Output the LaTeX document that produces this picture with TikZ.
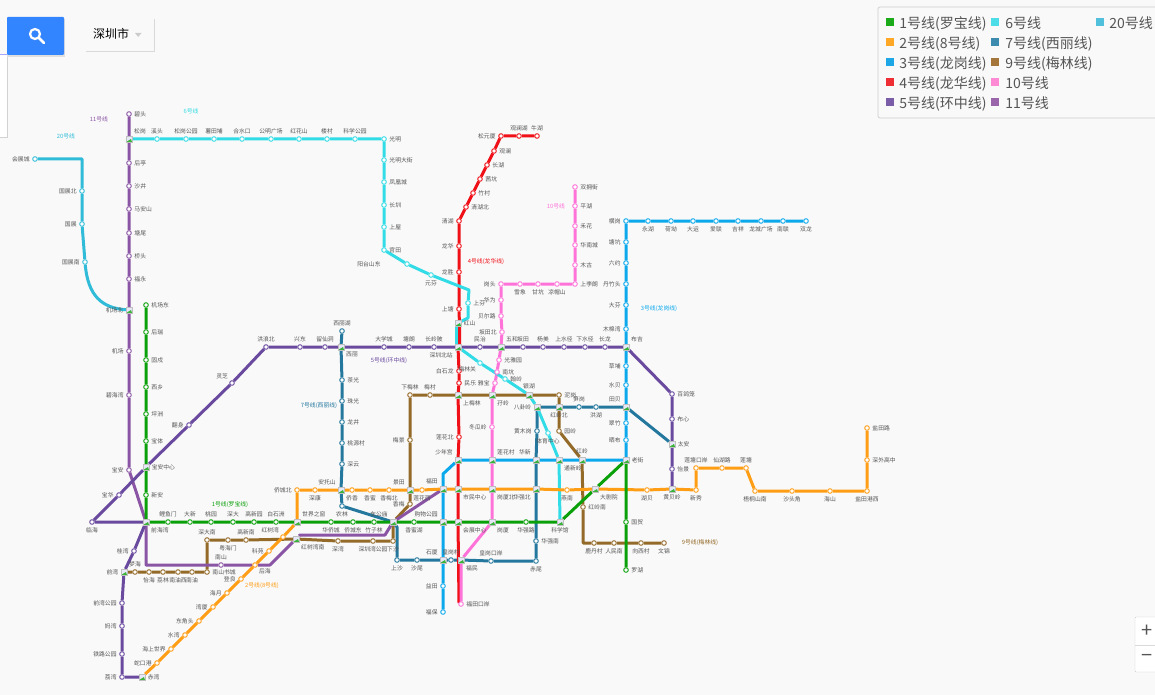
\documentclass[tikz,border=0pt]{standalone}
\usepackage{fontspec}
\setmainfont{Noto Sans CJK SC}
\usepackage{xcolor}
\usetikzlibrary{backgrounds}
\usetikzlibrary{positioning}
\definecolor{bgcol}{HTML}{F9F9F9}
\definecolor{labcol}{HTML}{555555}
\definecolor{c1}{HTML}{0AA00A}
\definecolor{c2}{HTML}{FF9D14}
\definecolor{c3}{HTML}{0BA9EC}
\definecolor{c4}{HTML}{F01018}
\definecolor{c5}{HTML}{6A4A9F}
\definecolor{c6}{HTML}{32DCE6}
\definecolor{c7}{HTML}{24789E}
\definecolor{c9}{HTML}{946A28}
\definecolor{c10}{HTML}{FF73D8}
\definecolor{c11}{HTML}{8B55A5}
\definecolor{c20}{HTML}{30BCD8}
\definecolor{sw1}{HTML}{1AAA1A}
\definecolor{sw2}{HTML}{FFA726}
\definecolor{sw3}{HTML}{1EA7E6}
\definecolor{sw4}{HTML}{EE2E33}
\definecolor{sw5}{HTML}{7A5CA8}
\definecolor{sw6}{HTML}{4DDDE8}
\definecolor{sw7}{HTML}{3D8CB0}
\definecolor{sw9}{HTML}{A5763C}
\definecolor{sw10}{HTML}{FF8AD4}
\definecolor{sw11}{HTML}{9B65AB}
\definecolor{sw20}{HTML}{50C0DC}
\tikzset{
	stn/.style={circle,fill=white,inner sep=0pt,minimum size=4.6pt,line width=0.9pt},
	s1/.style={stn,draw=c1},
	s2/.style={stn,draw=c2},
	s3/.style={stn,draw=c3},
	s4/.style={stn,draw=c4},
	s5/.style={stn,draw=c5},
	s6/.style={stn,draw=c6},
	s7/.style={stn,draw=c7},
	s9/.style={stn,draw=c9},
	s10/.style={stn,draw=c10},
	s11/.style={stn,draw=c11},
	s20/.style={stn,draw=c20},
	hub/.style={rectangle,inner sep=0pt,minimum size=6pt,fill=gray!45!blue!12!white,draw=gray!50,line width=0.2pt,
		path picture={\fill[c1!80!white] (path picture bounding box.south west) -- (path picture bounding box.south east) -- ([xshift=-1pt]path picture bounding box.east) -- cycle;}},
	ln/.style={line width=3pt,line join=round},
	tag/.style={font=\fontsize{5.8}{7}\selectfont,inner sep=0pt},
	swatch/.style={rectangle,inner sep=0pt,minimum size=8pt},
	legtext/.style={font=\fontsize{14}{16}\selectfont,text=labcol,inner sep=0pt,yshift=-1.5pt}
}
\begin{document}
\begin{tikzpicture}[x=1pt,y=-1pt,every label/.style={font=\fontsize{5.8}{7}\selectfont,text=labcol,inner sep=0.5pt},label distance=2pt]
	\path[use as bounding box] (0,0) rectangle (1155,695);
	% line 11
	\node[s11,label=right:碧头] (bitou) at (129,114) {};
	\node[hub,label=above right:松岗] (songgang) at (129,139) {};
	\node[s11,label=right:后亭] (houting) at (129,163) {};
	\node[s11,label=right:沙井] (shajing) at (129,186) {};
	\node[s11,label=right:马安山] (maanshan) at (129,209) {};
	\node[s11,label=right:塘尾] (tangwei) at (129,233) {};
	\node[s11,label=right:桥头] (qiaotou) at (129,256) {};
	\node[s11,label=right:福永] (fuyong) at (129,279) {};
	\node[hub,label=left:机场北] (jichangbei) at (129,310) {};
	\node[s11,label=left:机场] (jichang) at (129,351) {};
	\node[s11,label=left:碧海湾] (bihaiwan) at (129,395) {};
	\node[s11,label=left:宝安] (baoan) at (129,470) {};
	\node[hub,label=below right:前海湾] (qianhaiwan) at (146,522) {};
	\coordinate (bend11a) at (146,565);
	\node[s11,label=above:南山] (nanshan) at (221,565) {};
	\coordinate (bend11b) at (270,565);
	\node[hub,label=below right:红树湾南] (hongshuwannan) at (296,539) {};
	\coordinate (bend11c) at (300,535);
	\coordinate (bend11d) at (385,535);
	\node[hub,label=above left:车公庙] (chegongmiao) at (393,522) {};
	\node[hub,label=above left:福田] (futian) at (443,489) {};
	% line 5
	\node[s5,label=below:临海] (linhai) at (92,522) {};
	\node[s5,label=left:宝华] (baohua) at (119,495) {};
	\node[hub,label=right:宝安中心] (baoanzhongxin) at (146,467) {};
	\node[s5,label=left:翻身] (fanshen) at (189,425) {};
	\node[s5,label=above left:灵芝] (lingzhi) at (232,383) {};
	\node[s5,label=above:洪浪北] (honglangbei) at (266,347) {};
	\node[s5,label=above:兴东] (xingdong) at (300,347) {};
	\node[s5,label=above:留仙洞] (liuxiandong) at (325,347) {};
	\node[hub,label=below right:西丽] (xili) at (341,347) {};
	\node[s5,label=above:大学城] (daxuecheng) at (384,347) {};
	\node[s5,label=above:塘朗] (tanglang) at (409,347) {};
	\node[s5,label=above:长岭陂] (changlingpi) at (434,347) {};
	\node[hub,label=below left:深圳北站] (shenzhenbei) at (458,347) {};
	\node[s5,label=above:民治] (minzhi) at (480,347) {};
	\node[hub,label=above right:五和] (wuhe) at (501,347) {};
	\node[s5,label=above:坂田] (bantian) at (523,347) {};
	\node[s5,label=above:杨美] (yangmei) at (543,347) {};
	\node[s5,label=above:上水径] (shangshuijing) at (564,347) {};
	\node[s5,label=above:下水径] (xiashuijing) at (585,347) {};
	\node[s5,label=above:长龙] (changlong) at (605,347) {};
	\node[hub,label=above right:布吉] (buji) at (626,347) {};
	\node[s5,label=right:百鸽笼] (baigelong) at (672,394) {};
	\node[s5,label=right:布心] (buxin) at (672,419) {};
	\node[hub,label=right:太安] (taian) at (672,444) {};
	\node[s5,label=right:怡景] (yijing) at (672,469) {};
	\node[hub,label=below:黄贝岭] (huangbeiling) at (672,489) {};
	\node[s5,label=left:桂湾] (guiwan) at (134,551) {};
	\node[hub,label=left:前湾] (qianwan) at (124,572) {};
	\node[s5,label=left:前湾公园] (qianwangongyuan) at (122,603) {};
	\node[s5,label=left:妈湾] (mawan) at (122,626) {};
	\node[s5,label=left:铁路公园] (tielugongyuan) at (122,654) {};
	\node[s5,label=left:荔湾] (liwan) at (122,677) {};
	\node[hub,label=right:赤湾] (chiwan) at (142,677) {};
	% line 1
	\node[s1,label=right:机场东] (jichangdong) at (146,305) {};
	\node[s1,label=right:后瑞] (hourui) at (146,332) {};
	\node[s1,label=right:固戍] (gushu) at (146,360) {};
	\node[s1,label=right:西乡] (xixiang) at (146,387) {};
	\node[s1,label=right:坪洲] (pingzhou) at (146,414) {};
	\node[s1,label=right:宝体] (baoti) at (146,441) {};
	\node[s1,label=right:新安] (xinan) at (146,495) {};
	\node[s1,label=above:鲤鱼门] (liyumen) at (168,522) {};
	\node[s1,label=above:大新] (daxin) at (190,522) {};
	\node[s1,label=above:桃园] (taoyuan) at (211,522) {};
	\node[s1,label=above:深大] (shenda) at (233,522) {};
	\node[s1,label=above:高新园] (gaoxinyuan) at (254,522) {};
	\node[s1,label=above:白石洲] (baishizhou) at (276,522) {};
	\node[hub,label=above right:世界之窗] (shijiezhichuang) at (297,522) {};
	\node[s1,label=below:华侨城] (huaqiaocheng) at (331,522) {};
	\node[s1,label=below:侨城东] (qiaochengdong) at (353,522) {};
	\node[s1,label=below:竹子林] (zhuzilin) at (374,522) {};
	\node[s1,label=below:香蜜湖] (xiangmihu) at (414,522) {};
	\node[hub,label=above left:购物公园] (gouwugongyuan) at (443,522) {};
	\node[hub,label=below right:会展中心] (huizhanzhongxin) at (458,522) {};
	\node[hub,label=below right:岗厦] (gangxia) at (492,522) {};
	\node[s1,label=below:华强路] (huaqianglu) at (526,522) {};
	\node[hub,label=below:科学馆] (kexueguan) at (560,522) {};
	\node[hub,label=below right:大剧院] (dajuyuan) at (595,489) {};
	\node[hub,label=right:老街] (laojie) at (626,460) {};
	\node[s1,label=right:国贸] (guomao) at (626,522) {};
	\node[s1,label=right:罗湖] (luohu) at (626,570) {};
	% line 2
	\node[s2,label=left:蛇口港] (shekougang) at (157,663) {};
	\node[s2,label=left:海上世界] (haishangshijie) at (171,649) {};
	\node[s2,label=left:水湾] (shuiwan) at (185,635) {};
	\node[s2,label=left:东角头] (dongjiaotou) at (199,621) {};
	\node[s2,label=left:湾厦] (wanxia) at (213,607) {};
	\node[s2,label=left:海月] (haiyue) at (227,593) {};
	\node[s2,label=left:登良] (dengliang) at (241,579) {};
	\node[s2,label=below right:后海] (houhai) at (255,565) {};
	\node[s2,label=left:科苑] (keyuan) at (269,551) {};
	\node[s2,label=above left:红树湾] (hongshuwan) at (283,537) {};
	\node[s2,label=left:侨城北] (qiaochengbei) at (297,490) {};
	\node[s2,label=below:深康] (shenkang) at (315,490) {};
	\node[hub,label=above left:安托山] (antuoshan) at (341,490) {};
	\node[s2,label=below:侨香] (qiaoxiang) at (352,490) {};
	\node[s2,label=below:香蜜] (xiangmi) at (370,490) {};
	\node[s2,label=below:香梅北] (xiangmeibei) at (389,490) {};
	\node[hub,label=above left:景田] (jingtian) at (410,490) {};
	\node[s2,label=below:莲花西] (lianhuaxi) at (422,490) {};
	\node[hub,label=below right:市民中心] (shiminzhongxin) at (458,489) {};
	\node[hub,label=below right:岗厦北] (gangxiabei) at (492,489) {};
	\node[hub,label=below left:华强北] (huaqiangbei) at (536,489) {};
	\node[s2,label=below:燕南] (yannan) at (567,490) {};
	\node[s2,label=below:湖贝] (hubei) at (647,490) {};
	\node[s2,label=below:新秀] (xinxiu) at (696,490) {};
	\node[s2,label=above:莲塘口岸] (liantangkouan) at (696,468) {};
	\node[s2,label=above:仙湖路] (xianhulu) at (722,468) {};
	\node[s2,label=above:莲塘] (liantang) at (746,468) {};
	\node[s2,label=below:梧桐山南] (wutongshannan) at (755,491) {};
	\node[s2,label=below:沙头角] (shatoujiao) at (792,491) {};
	\node[s2,label=below:海山] (haishan) at (830,491) {};
	\node[s2,label=below:盐田港西] (yantiangangxi) at (867,491) {};
	\node[s2,label=right:深外高中] (shenwaigaozhong) at (867,460) {};
	\node[s2,label=right:盐田路] (yantianlu) at (867,428) {};
	% line 3
	\node[s3,label=below:双龙] (shuanglong) at (806,221) {};
	\node[s3,label=below:南联] (nanlian) at (783,221) {};
	\node[s3,label=below:龙城广场] (longchengguangchang) at (761,221) {};
	\node[s3,label=below:吉祥] (jixiang) at (738,221) {};
	\node[s3,label=below:爱联] (ailian) at (716,221) {};
	\node[s3,label=below:大运] (dayun) at (693,221) {};
	\node[s3,label=below:荷坳] (heao) at (671,221) {};
	\node[s3,label=below:永湖] (yonghu) at (648,221) {};
	\node[s3,label=left:横岗] (henggang) at (626,221) {};
	\node[s3,label=left:塘坑] (tangkeng) at (626,242) {};
	\node[s3,label=left:六约] (liuyue) at (626,263) {};
	\node[s3,label=left:丹竹头] (danzhutou) at (626,284) {};
	\node[s3,label=left:大芬] (dafen) at (626,305) {};
	\node[s3,label=left:木棉湾] (mumianwan) at (626,329) {};
	\node[s3,label=left:草埔] (caopu) at (626,366) {};
	\node[s3,label=left:水贝] (shuibei) at (626,385) {};
	\node[hub,label=above left:田贝] (tianbei) at (626,407) {};
	\node[s3,label=left:翠竹] (cuizhu) at (626,423) {};
	\node[s3,label=left:晒布] (shaibu) at (626,440) {};
	\node[hub,label=above:红岭] (hongling) at (582,460) {};
	\node[hub,label=below right:通新岭] (tongxinling) at (559,460) {};
	\node[hub,label=above left:华新] (huaxin) at (536,460) {};
	\node[hub,label=above right:莲花村] (lianhuacun) at (492,460) {};
	\node[hub,label=above left:少年宫] (shaoniangong) at (458,460) {};
	\coordinate (bend3) at (443,474);
	\node[hub,label=above left:石厦] (shixia) at (443,560) {};
	\node[s3,label=left:益田] (yitian) at (443,586) {};
	\node[s3,label=left:福保] (fubao) at (443,612) {};
	% line 4
	\node[s4,label=above:牛湖] (niuhu) at (537,136) {};
	\node[s4,label=above:观澜湖] (guanlanhu) at (519,136) {};
	\node[s4,label=left:松元厦] (songyuanxia) at (501,136) {};
	\node[s4,label=right:观澜] (guanlan) at (494,151) {};
	\node[s4,label=right:长湖] (changhu) at (487,165) {};
	\node[s4,label=right:茜坑] (qiankeng) at (480,179) {};
	\node[s4,label=right:竹村] (zhucun) at (473,193) {};
	\node[s4,label=right:清湖北] (qinghubei) at (466,207) {};
	\node[s4,label=left:清湖] (qinghu) at (459,221) {};
	\node[s4,label=left:龙华] (longhua) at (459,246) {};
	\node[s4,label=left:龙胜] (longsheng) at (459,272) {};
	\node[s4,label=left:上塘] (shangtang) at (459,309) {};
	\node[hub,label=right:红山] (hongshan) at (458,323) {};
	\node[s4,label=left:白石龙] (baishilong) at (459,371) {};
	\node[s4,label=right:民乐] (minle) at (459,383) {};
	\node[hub,label=below right:上梅林] (shangmeilin) at (458,395) {};
	\node[s4,label=left:莲花北] (lianhuabei) at (459,437) {};
	\node[hub,label=below right:福民] (fumin) at (461,560) {};
	\coordinate (end4) at (459,603);
	% line 10
	\node[s10,label=right:双拥街] (shuangyongjie) at (575,187) {};
	\node[s10,label=right:平湖] (pinghu) at (575,206) {};
	\node[s10,label=right:禾花] (hehua) at (575,226) {};
	\node[s10,label=right:华南城] (huanancheng) at (575,245) {};
	\node[s10,label=right:木古] (mugu) at (575,265) {};
	\node[s10,label=right:上李朗] (shangliang) at (575,284) {};
	\node[s10,label=below:凉帽山] (liangmaoshan) at (557,284) {};
	\node[s10,label=below:甘坑] (gankeng) at (538,284) {};
	\node[s10,label=below:雪象] (xuexiang) at (520,284) {};
	\node[s10,label=left:岗头] (gangtou) at (501,284) {};
	\node[s10,label=left:华为] (huawei) at (501,300) {};
	\node[s10,label=left:贝尔路] (beierlu) at (501,316) {};
	\node[s10,label=left:坂田北] (bantianbei) at (502,332) {};
	\node[s10,label=right:光雅园] (guangyayuan) at (499,360) {};
	\node[s10,label=right:南坑] (nankeng) at (497,372) {};
	\node[s10,label=left:雅宝] (yabao) at (495,383) {};
	\node[hub,label=below right:孖岭] (maling) at (492,395) {};
	\node[s10,label=left:冬瓜岭] (dongguangling) at (492,427) {};
	\node[s10,label=right:福田口岸] (futiankouan) at (461,604) {};
	% line 6
	\node[s6,label=above:溪头] (xitou) at (157,139) {};
	\node[s6,label=above:松岗公园] (songganggongyuan) at (186,139) {};
	\node[s6,label=above:薯田埔] (shutianpu) at (214,139) {};
	\node[s6,label=above:合水口] (heshuikou) at (242,139) {};
	\node[s6,label=above:公明广场] (gongmingguangchang) at (271,139) {};
	\node[s6,label=above:红花山] (honghuashan) at (299,139) {};
	\node[s6,label=above:楼村] (loucun) at (327,139) {};
	\node[s6,label=above:科学公园] (kexuegongyuan) at (355,139) {};
	\node[s6,label=right:光明] (guangming) at (384,139) {};
	\node[s6,label=right:光明大街] (guangmingdajie) at (384,160) {};
	\node[s6,label=right:凤凰城] (fenghuangcheng) at (384,182) {};
	\node[s6,label=right:长圳] (changzhen) at (384,205) {};
	\node[s6,label=right:上屋] (shangwu) at (384,227) {};
	\node[s6,label=right:官田] (guantian) at (384,250) {};
	\node[s6,label={[xshift=-21pt]left:阳台山东}] (yangtaishandong) at (407,264) {};
	\node[s6,label=below:元芬] (yuanfen) at (431,275) {};
	\coordinate (bend6a) at (469,290);
	\node[s6,label=right:上芬] (shangfen) at (468,303) {};
	\coordinate (bend6b) at (468,318);
	\node[s6,label=below left:梅林关] (meilinguan) at (480,363) {};
	\node[s6,label=right:翰岭] (hanling) at (505,379) {};
	\node[hub,label=above:银湖] (yinhu) at (529,395) {};
	\node[hub,label=left:八卦岭] (bagualing) at (537,407) {};
	\node[s6,label=below:体育中心] (tiyuzhongxin) at (548,433) {};
	% line 7
	\node[s7,label=above:西丽湖] (xilihu) at (342,331) {};
	\node[s7,label=right:茶光] (chaguang) at (342,380) {};
	\node[s7,label=right:珠光] (zhuguang) at (342,401) {};
	\node[s7,label=right:龙井] (longjing) at (342,422) {};
	\node[s7,label=right:桃源村] (taoyuancun) at (342,443) {};
	\node[s7,label=right:深云] (shenyun) at (342,464) {};
	\node[s7,label=below:农林] (nonglin) at (342,506) {};
	\coordinate (bend7) at (397,527);
	\node[s7,label=below:上沙] (shangsha) at (397,560) {};
	\node[s7,label=below:沙尾] (shawei) at (417,560) {};
	\node[s7,label=above:皇岗村] (huanggangcun) at (451,560) {};
	\node[s7,label=above:皇岗口岸] (huanggangkouan) at (491,561) {};
	\node[s7,label=below:赤尾] (chiwei) at (536,561) {};
	\node[s7,label=right:华强南] (huaqiangnan) at (536,541) {};
	\node[s7,label=left:黄木岗] (huangmugang) at (537,431) {};
	\node[hub,label=below:红岭北] (honglingbei) at (559,407) {};
	\node[s7,label=above:笋岗] (sungang) at (579,407) {};
	\node[s7,label=below:洪湖] (honghu) at (596,407) {};
	% line 9
	\node[s9,label=below:文锦] (wenjin) at (664,543) {};
	\node[s9,label=below:向西村] (xiangxicun) at (641,543) {};
	\node[s9,label=below:人民南] (renminnan) at (614,543) {};
	\node[s9,label=below:鹿丹村] (ludancun) at (594,543) {};
	\coordinate (bend9) at (583,543);
	\node[s9,label=right:红岭南] (honglingnan) at (583,507) {};
	\node[s9,label=right:园岭] (yuanling) at (559,431) {};
	\node[s9,label=right:泥岗] (nigang) at (559,395) {};
	\node[s9,label=above:梅村] (meicun) at (430,395) {};
	\node[s9,label=above:下梅林] (xiameilin) at (410,395) {};
	\node[s9,label=left:梅景] (meijing) at (410,440) {};
	\node[s9,label=left:香梅] (xiangmei) at (410,504) {};
	\node[s9,label=below:下沙] (xiasha) at (393,541) {};
	\node[s9,label=below:深圳湾公园] (shenzhenwangongyuan) at (373,541) {};
	\node[s9,label=below:深湾] (shenwan) at (338,541) {};
	\node[s9,label=above:高新南] (gaoxinnan) at (246,540) {};
	\node[s9,label=below:粤海门] (yuehaimen) at (228,540) {};
	\node[s9,label=above:深大南] (shendanan) at (207,540) {};
	\node[s9,label=right:南山书城] (nanshanshucheng) at (207,572) {};
	\node[s9,label=below:南油] (nanyou) at (192,572) {};
	\node[s9,label=below:南油西] (nanyouxi) at (178,572) {};
	\node[s9,label=below:荔林] (lilin) at (163,572) {};
	\node[s9,label=below:怡海] (yihai) at (149,572) {};
	\node[s9,label=above:梦海] (menghai) at (135,572) {};
	% line 20
	\node[s20,label=left:会展城] (huizhancheng) at (35,159) {};
	\coordinate (bend20) at (82,159);
	\node[s20,label=left:国展北] (guozhanbei) at (82,191) {};
	\node[s20,label=left:国展] (guozhan) at (82,224) {};
	\node[s20,label=left:国展南] (guozhannan) at (85,262) {};
	% line names
	\node[tag,text=c11] (tag11) at (99,119) {11号线};
	\node[tag,text=c6] (tag6) at (191,111) {6号线};
	\node[tag,text=c20] (tag20) at (66,136) {20号线};
	\node[tag,text=c1] (tag1) at (230,505) {1号线(罗宝线)};
	\node[tag,text=c2] (tag2) at (262,586) {2号线(8号线)};
	\node[tag,text=c3] (tag3) at (659,309) {3号线(龙岗线)};
	\node[tag,text=c4] (tag4) at (486,262) {4号线(龙华线)};
	\node[tag,text=c5] (tag5) at (389,361) {5号线(环中线)};
	\node[tag,text=c7] (tag7) at (319,406) {7号线(西丽线)};
	\node[tag,text=c9] (tag9) at (700,543) {9号线(梅林线)};
	\node[tag,text=c10] (tag10) at (556,206) {10号线};
	% lines behind the stations
	\begin{scope}[on background layer]
		\fill[bgcol] (0,0) rectangle (1155,695);
		\draw[ln,c9] (wenjin) -- (xiangxicun) -- (renminnan) -- (ludancun) -- (bend9) -- (honglingnan) -- (hongling) -- (yuanling) -- (honglingbei) -- (nigang) -- (yinhu) -- (maling) -- (shangmeilin) -- (meicun) -- (xiameilin) -- (meijing) -- (jingtian) -- (xiangmei) -- (chegongmiao) -- (xiasha) -- (shenzhenwangongyuan) -- (shenwan) -- (hongshuwannan) -- (gaoxinnan) -- (yuehaimen) -- (shendanan) -- (nanshanshucheng) -- (nanyou) -- (nanyouxi) -- (lilin) -- (yihai) -- (menghai) -- (qianwan);
		\draw[ln,c20] (huizhancheng) -- (bend20) -- (guozhanbei) -- (guozhan) -- (guozhannan) .. controls (88,296) and (102,308) .. (jichangbei);
		\draw[ln,c11] (bitou) -- (songgang) -- (houting) -- (shajing) -- (maanshan) -- (tangwei) -- (qiaotou) -- (fuyong) -- (jichangbei) -- (jichang) -- (bihaiwan) -- (baoan) -- (qianhaiwan) -- (bend11a) -- (nanshan) -- (houhai) -- (bend11b) -- (hongshuwannan) -- (bend11c) -- (bend11d) -- (chegongmiao) -- (futian);
		\draw[ln,c5] (linhai) -- (baohua) -- (baoanzhongxin) -- (fanshen) -- (lingzhi) -- (honglangbei) -- (xingdong) -- (liuxiandong) -- (xili) -- (daxuecheng) -- (tanglang) -- (changlingpi) -- (shenzhenbei) -- (minzhi) -- (wuhe) -- (bantian) -- (yangmei) -- (shangshuijing) -- (xiashuijing) -- (changlong) -- (buji) -- (baigelong) -- (buxin) -- (taian) -- (yijing) -- (huangbeiling);
		\draw[ln,c5] (linhai) -- (qianhaiwan) -- (guiwan) -- (qianwan) -- (qianwangongyuan) -- (mawan) -- (tielugongyuan) -- (liwan) -- (chiwan);
		\draw[ln,c7] (xilihu) -- (xili) -- (chaguang) -- (zhuguang) -- (longjing) -- (taoyuancun) -- (shenyun) -- (antuoshan) -- (nonglin) -- (chegongmiao) -- (bend7) -- (shangsha) -- (shawei) -- (shixia) -- (huanggangcun) -- (fumin) -- (huanggangkouan) -- (chiwei) -- (huaqiangnan) -- (huaqiangbei) -- (huaxin) -- (huangmugang) -- (bagualing) -- (honglingbei) -- (sungang) -- (honghu) -- (tianbei) -- (taian);
		\draw[ln,c4] (niuhu) -- (guanlanhu) -- (songyuanxia) -- (guanlan) -- (changhu) -- (qiankeng) -- (zhucun) -- (qinghubei) -- (qinghu) -- (longhua) -- (longsheng) -- (shangtang) -- ([xshift=1.5pt]hongshan.south) -- ([xshift=1.5pt]shenzhenbei.north);
		\draw[ln,c4] (shenzhenbei) -- (baishilong) -- (minle) -- (shangmeilin) -- (lianhuabei) -- (shaoniangong) -- (shiminzhongxin) -- (huizhanzhongxin) -- (end4);
		\draw[ln,c10] (shuangyongjie) -- (pinghu) -- (hehua) -- (huanancheng) -- (mugu) -- (shangliang) -- (liangmaoshan) -- (gankeng) -- (xuexiang) -- (gangtou) -- (huawei) -- (beierlu) -- (bantianbei) -- (wuhe) -- (guangyayuan) -- (nankeng) -- (yabao) -- (maling) -- (dongguangling) -- (lianhuacun) -- (gangxiabei) -- (gangxia) -- (fumin) -- (futiankouan);
		\draw[ln,c6] (songgang) -- (xitou) -- (songganggongyuan) -- (shutianpu) -- (heshuikou) -- (gongmingguangchang) -- (honghuashan) -- (loucun) -- (kexuegongyuan) -- (guangming) -- (guangmingdajie) -- (fenghuangcheng) -- (changzhen) -- (shangwu) -- (guantian) -- (yangtaishandong) -- (yuanfen) -- (bend6a) -- (shangfen) -- (bend6b) -- (hongshan);
		\draw[ln,c6] ([xshift=-1.5pt]hongshan.south) -- ([xshift=-1.5pt]shenzhenbei.north);
		\draw[ln,c6] (shenzhenbei) -- (meilinguan) -- (hanling) -- (yinhu) -- (bagualing) -- (tiyuzhongxin) -- (tongxinling) -- (kexueguan);
		\draw[ln,c3] (shuanglong) -- (nanlian) -- (longchengguangchang) -- (jixiang) -- (ailian) -- (dayun) -- (heao) -- (yonghu) -- (henggang) -- (tangkeng) -- (liuyue) -- (danzhutou) -- (dafen) -- (mumianwan) -- (buji) -- (caopu) -- (shuibei) -- (tianbei) -- (cuizhu) -- (shaibu) -- (laojie) -- (hongling) -- (tongxinling) -- (huaxin) -- (lianhuacun) -- (shaoniangong) -- (bend3) -- (futian) -- (gouwugongyuan) -- (shixia) -- (yitian) -- (fubao);
		\draw[ln,c2] (chiwan) -- (shekougang) -- (haishangshijie) -- (shuiwan) -- (dongjiaotou) -- (wanxia) -- (haiyue) -- (dengliang) -- (houhai) -- (keyuan) -- (hongshuwan) -- (shijiezhichuang) -- (qiaochengbei) -- (shenkang) -- (antuoshan) -- (qiaoxiang) -- (xiangmi) -- (xiangmeibei) -- (jingtian) -- (lianhuaxi) -- (futian) -- (shiminzhongxin) -- (gangxiabei) -- (huaqiangbei) -- (yannan) -- (dajuyuan) -- (hubei) -- (huangbeiling) -- (xinxiu) -- (liantangkouan) -- (xianhulu) -- (liantang) -- (wutongshannan) -- (shatoujiao) -- (haishan) -- (yantiangangxi) -- (shenwaigaozhong) -- (yantianlu);
		\draw[ln,c1] (jichangdong) -- (hourui) -- (gushu) -- (xixiang) -- (pingzhou) -- (baoti) -- (baoanzhongxin) -- (xinan) -- (qianhaiwan) -- (liyumen) -- (daxin) -- (taoyuan) -- (shenda) -- (gaoxinyuan) -- (baishizhou) -- (shijiezhichuang) -- (huaqiaocheng) -- (qiaochengdong) -- (zhuzilin) -- (chegongmiao) -- (xiangmihu) -- (gouwugongyuan) -- (huizhanzhongxin) -- (gangxia) -- (huaqianglu) -- (kexueguan) -- (dajuyuan) -- (laojie) -- (guomao) -- (luohu);
	\end{scope}
	% page furniture
	\fill[white] (0,55) rectangle (7,137);
	\draw[gray!35,line width=0.8pt] (7,55) -- (7,137) -- (0,137);
	\draw[blue!35,line width=0.6pt] (0,54) -- (7,54);
	\fill[gray!25] (7,19) rectangle (65,57);
	\node[fill={rgb,255:red,51;green,133;blue,255},minimum width=57pt,minimum height=38pt,inner sep=0pt,rounded corners=1pt] (searchbtn) at (35.5,36) {};
	\draw[white,line width=2.2pt] (35,34) circle (5pt);
	\draw[white,line width=2.6pt,line cap=round] (39,38) -- (44,43);
	\fill[gray!30] (86,19) rectangle (155,52.5);
	\node[fill=bgcol,minimum width=69pt,minimum height=34pt,inner sep=0pt] (citybox) at (119.5,34) {};
	\node[font=\fontsize{12}{14}\selectfont,inner sep=0pt] (city) at (111,34) {深圳市};
	\fill[gray!40] (135,33) -- (141.5,33) -- (138.2,37) -- cycle;
	\node[draw=gray!40,fill=white,rounded corners=1pt,minimum width=30pt,minimum height=55pt,inner sep=0pt] (zoombox) at (1150,644.5) {};
	\draw[gray!30] (1135,645) -- (1155,645);
	\node[font=\fontsize{20}{20}\selectfont,text=labcol,inner sep=0pt] (zoomin) at (1147,631) {+};
	\node[font=\fontsize{20}{20}\selectfont,text=labcol,inner sep=0pt] (zoomout) at (1147,658) {−};
	% legend
	\node[draw=gray!40,fill=bgcol,rounded corners=2pt,minimum width=290pt,minimum height=111pt,inner sep=0pt,line width=0.7pt] (legend) at (1023,62.5) {};
	\node[swatch,fill=sw1] (sw a) at (890,22) {};
	\node[legtext,right=5pt of sw a] (leg a) {1号线(罗宝线)};
	\node[swatch,fill=sw2] (sw b) at (890,42) {};
	\node[legtext,right=5pt of sw b] (leg b) {2号线(8号线)};
	\node[swatch,fill=sw3] (sw c) at (890,62) {};
	\node[legtext,right=5pt of sw c] (leg c) {3号线(龙岗线)};
	\node[swatch,fill=sw4] (sw d) at (890,82) {};
	\node[legtext,right=5pt of sw d] (leg d) {4号线(龙华线)};
	\node[swatch,fill=sw5] (sw e) at (890,102) {};
	\node[legtext,right=5pt of sw e] (leg e) {5号线(环中线)};
	\node[swatch,fill=sw6] (sw f) at (995,22) {};
	\node[legtext,right=6pt of sw f] (leg f) {6号线};
	\node[swatch,fill=sw7] (sw g) at (995,42) {};
	\node[legtext,right=6pt of sw g] (leg g) {7号线(西丽线)};
	\node[swatch,fill=sw9] (sw h) at (995,62) {};
	\node[legtext,right=6pt of sw h] (leg h) {9号线(梅林线)};
	\node[swatch,fill=sw10] (sw i) at (995,82) {};
	\node[legtext,right=6pt of sw i] (leg i) {10号线};
	\node[swatch,fill=sw11] (sw j) at (995,102) {};
	\node[legtext,right=6pt of sw j] (leg j) {11号线};
	\node[swatch,fill=sw20] (sw k) at (1100,22) {};
	\node[legtext,right=5pt of sw k] (leg k) {20号线};
\end{tikzpicture}
\end{document}
